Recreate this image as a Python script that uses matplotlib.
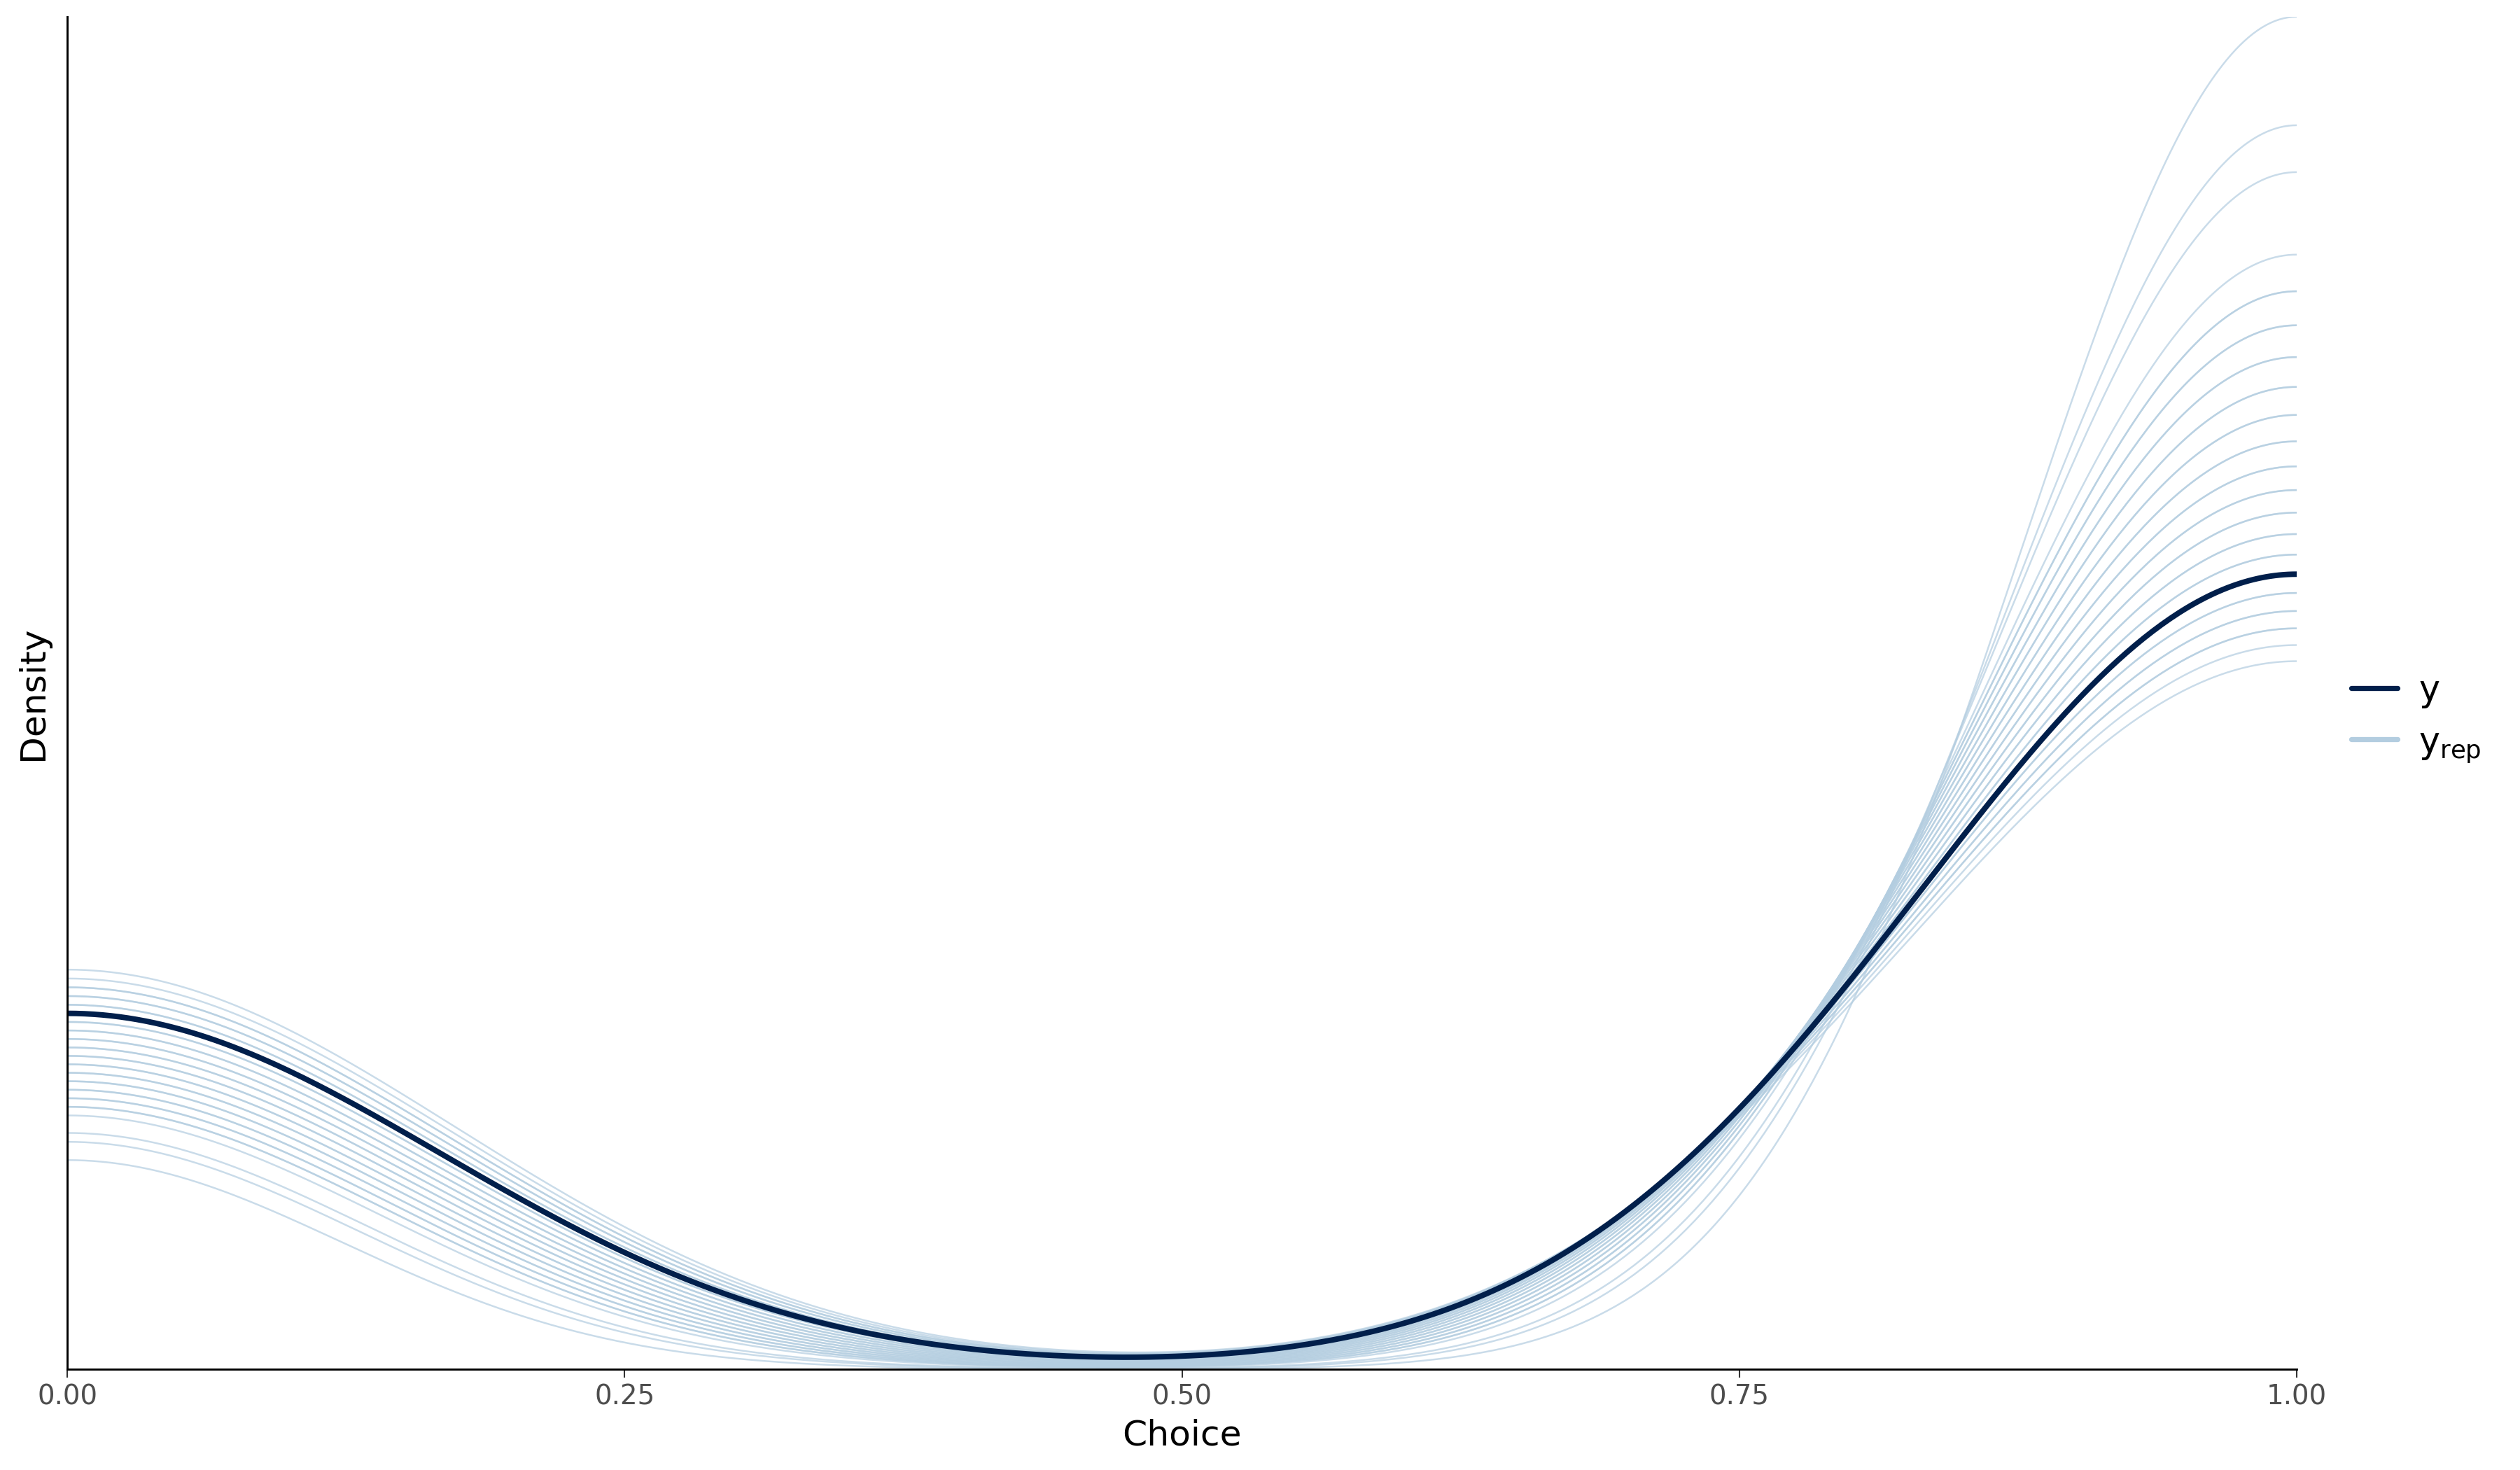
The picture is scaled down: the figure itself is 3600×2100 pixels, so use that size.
import numpy as np
import matplotlib
matplotlib.use("Agg")
import matplotlib.pyplot as plt
from matplotlib.lines import Line2D

# binary choices, 97 observations per data set
n_obs = 97
y_ones = 67
# number of 1-choices in each replicated data set
yrep_ones = [84, 82, 81, 79, 78, 78, 77, 77, 76, 76, 75, 75, 74, 74, 73, 73,
             72, 72, 71, 71, 70, 70, 69, 69, 68, 68, 67, 66, 66, 65, 65, 64, 64, 63, 62]

xticks = [0.0, 0.25, 0.5, 0.75, 1.0]
xtick_labels = ["0.00", "0.25", "0.50", "0.75", "1.00"]

col_y = "#011f4b"
col_yrep = "#b3cde0"


def binary_sample(ones, n):
    return np.r_[np.zeros(n - ones), np.ones(ones)]


def bw_nrd0(x):
    sd = np.std(x, ddof=1)
    iqr = np.subtract(*np.percentile(x, [75, 25]))
    lo = min(sd, iqr / 1.34)
    if lo == 0:
        lo = sd
    return 0.9 * lo * len(x) ** -0.2


def density(x, grid):
    h = bw_nrd0(x)
    u = (grid[:, None] - x[None, :]) / h
    return np.exp(-0.5 * u ** 2).sum(axis=1) / (len(x) * h * np.sqrt(2 * np.pi))


grid = np.linspace(0, 1, 512)
dens_rep = [density(binary_sample(k, n_obs), grid) for k in yrep_ones]
dens_y = density(binary_sample(y_ones, n_obs), grid)

fig = plt.figure(figsize=(12, 7), dpi=300)
ax = fig.add_axes([0.0267, 0.0686, 0.9114 - 0.0267, 0.9886 - 0.0686])

for d in dens_rep:
    ax.plot(grid, d, color=col_yrep, lw=0.6, alpha=0.7)
ax.plot(grid, dens_y, color=col_y, lw=1.9)

all_d = np.concatenate(dens_rep + [dens_y])
ax.set_xlim(0, 1)
ax.set_ylim(all_d.min(), all_d.max())

for s in ["top", "right"]:
    ax.spines[s].set_visible(False)
for s in ["left", "bottom"]:
    ax.spines[s].set_linewidth(0.7)
    ax.spines[s].set_color("black")

ax.set_xticks(xticks)
ax.set_xticklabels(xtick_labels)
ax.set_yticks([])
ax.tick_params(axis="x", length=2.9, width=0.5, color="#333333",
               labelcolor="#4d4d4d", labelsize=9.3, pad=2)
ax.set_xlabel("Choice", fontsize=12.1, labelpad=3)
ax.set_ylabel("Density", fontsize=12.1, labelpad=6)

handles = [
    Line2D([], [], color=col_y, lw=1.75, solid_capstyle="round"),
    Line2D([], [], color=col_yrep, lw=1.75, solid_capstyle="round"),
]
fig.legend(handles, ["y", r"$\mathregular{y_{rep}}$"], loc="center left",
           bbox_to_anchor=(0.933, 0.511), frameon=False, fontsize=12.2,
           handlelength=1.3, handletextpad=0.6, labelspacing=0.45,
           borderpad=0, borderaxespad=0)

fig.savefig("out.png", dpi=300)
